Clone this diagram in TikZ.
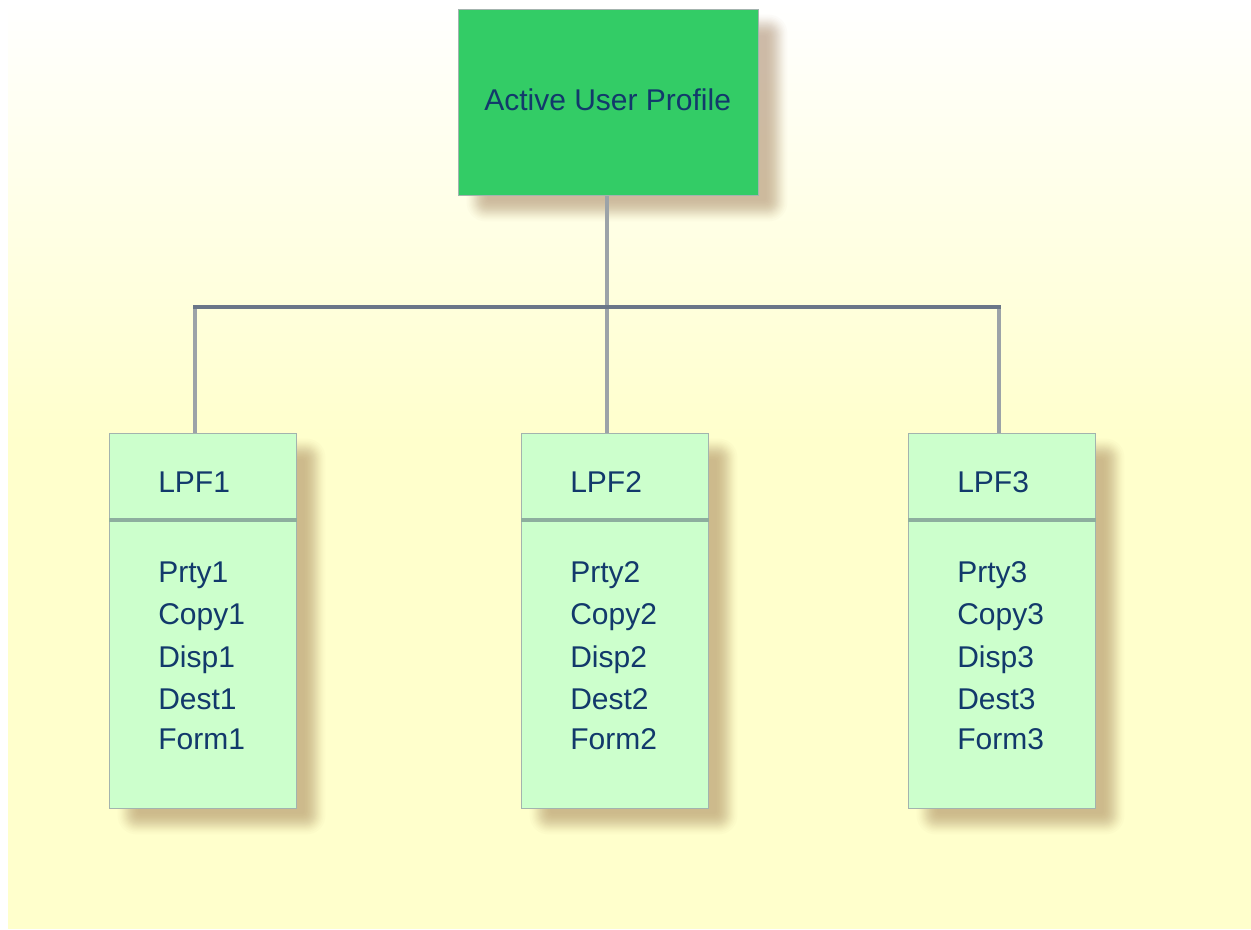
\documentclass[tikz,border=0pt]{standalone}
\usepackage{fontspec}
\setmainfont{Liberation Sans}
\usetikzlibrary{calc}
\definecolor{bgyellow}{HTML}{FFFFCC}
\definecolor{topgreen}{HTML}{33CC66}
\definecolor{palegreen}{HTML}{CCFFCC}
\definecolor{inktext}{HTML}{12396B}
\definecolor{shadowbrown}{HTML}{9A7048}
\definecolor{vline}{HTML}{9CA3A8}
\definecolor{hline}{HTML}{6A7688}
\definecolor{divline}{HTML}{8DAE9E}
\definecolor{edgeline}{HTML}{A3B3AE}
\newcommand{\softshadow}[4]{% x0 y0 x1 y1 (box corners)
  \foreach \k in {0,...,19}{
    \pgfmathsetmacro{\ins}{acos(1-2*(\k+0.5)/20)/180*26}
    \pgfmathsetmacro{\rad}{(26-\ins)*0.6+0.1}
    \fill[shadowbrown,opacity=0.026,rounded corners=\rad pt]
      ({#1+19-13+\ins},{#2+16-13+\ins}) rectangle ({#3+19+13-\ins},{#4+16+13-\ins});
  }
}
\tikzset{
  x=0.75pt,y=-0.75pt,
  boxnode/.style={draw=edgeline,line width=1pt,fill=palegreen,minimum width=140.25pt,minimum height=281.25pt,inner sep=0pt,anchor=north west},
  topnode/.style={draw=edgeline,line width=0.8pt,fill=topgreen,minimum width=225pt,minimum height=139.5pt,inner sep=0pt,anchor=north west},
  lbl/.style={text=inktext,font=\fontsize{22.5pt}{26pt}\selectfont,inner sep=0pt,anchor=base west},
  stemv/.style={vline,line width=2.8pt},
  barh/.style={hline,line width=2.4pt},
  divider/.style={divline,line width=2.6pt},
}
\begin{document}
\begin{tikzpicture}
\useasboundingbox (0,0) rectangle (1251,929);
\fill[white] (0,0) rectangle (1251,929);
\fill[bgyellow] (8,440) rectangle (1251,929);
\shade[top color=white,bottom color=bgyellow] (8,0) rectangle (1251,441);
% shadows
\softshadow{458}{9}{758}{195}
\softshadow{109}{433}{296}{808}
\softshadow{521}{433}{708}{808}
\softshadow{908}{433}{1095}{808}
% connector anchors
\coordinate (jc) at (607,307);
\coordinate (jl) at (195,307);
\coordinate (jr) at (999,307);
% boxes
\node[topnode] (top) at (458,9) {};
\node[boxnode] (b1) at (109,433) {};
\node[boxnode] (b2) at (521,433) {};
\node[boxnode] (b3) at (908,433) {};
% connectors
\draw[stemv] (jc |- top.south) -- (jc |- b2.north);
\draw[stemv] (jl) -- (jl |- b1.north);
\draw[stemv] (jr) -- (jr |- b3.north);
\draw[barh,line cap=rect] (jl) -- (jr);
% dividers
\foreach \b in {b1,b2,b3}{
  \coordinate (d\b) at ($(\b.north)+(0,87)$);
  \draw[divider] (d\b -| \b.west) -- (d\b -| \b.east);
}
% text
\node[lbl] (toplabel) at (484,110) {Active User Profile};
\foreach \b/\n/\x in {b1/1/158,b2/2/570,b3/3/957}{
  \node[lbl] (lpf\n) at (\x,492) {LPF\n};
  \node[lbl] (prty\n) at (\x,582) {Prty\n};
  \node[lbl] (copy\n) at (\x,624) {Copy\n};
  \node[lbl] (disp\n) at (\x,667) {Disp\n};
  \node[lbl] (dest\n) at (\x,709) {Dest\n};
  \node[lbl] (form\n) at (\x,749) {Form\n};
}
\end{tikzpicture}
\end{document}
